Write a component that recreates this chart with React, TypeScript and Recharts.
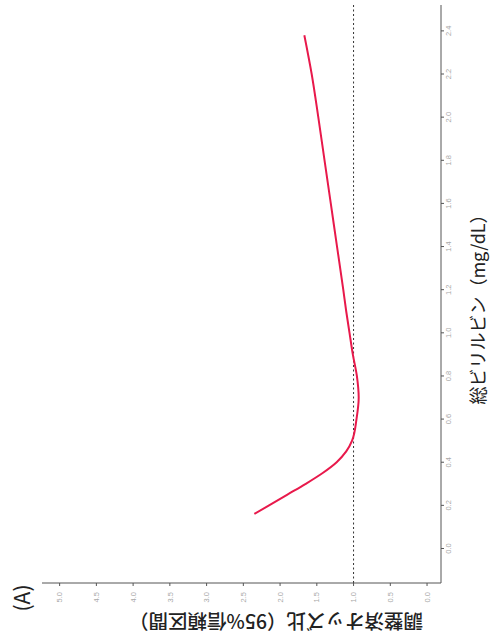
import React from 'react';
import { LineChart, Line, XAxis, YAxis, ReferenceLine } from 'recharts';

const bilirubin = [0.16, 0.2, 0.25, 0.3, 0.35, 0.4, 0.45, 0.5, 0.6, 0.7, 0.8, 0.9, 1.0, 1.1, 1.2, 1.4, 1.6, 1.8, 2.0, 2.2, 2.38];
const oddsRatio = [2.35, 2.15, 1.9, 1.65, 1.42, 1.23, 1.1, 1.02, 0.96, 0.93, 0.955, 1.01, 1.055, 1.1, 1.14, 1.225, 1.31, 1.395, 1.48, 1.57, 1.67];
const xTicks = [0, 0.2, 0.4, 0.6, 0.8, 1.0, 1.2, 1.4, 1.6, 1.8, 2.0, 2.2, 2.4];
const yTicks = [0, 0.5, 1.0, 1.5, 2.0, 2.5, 3.0, 3.5, 4.0, 4.5, 5.0];
const xTitle = '総ビリルビン（mg/dL）';
const yTitle = '調整済オッズ比（95%信頼区間）';
const panelLabel = '(A)';

const data = bilirubin.map((b, i) => ({ b, or: oddsRatio[i] }));

const tickStyle = { fontSize: 7.5, fill: '#a8a8a8', fontFamily: 'Liberation Sans, Arial, sans-serif' };

export default function App() {
  return (
    <div style={{ position: 'absolute', left: 0, top: 0, width: 492, height: 640, overflow: 'hidden', background: '#fff' }}>
      <div
        style={{
          position: 'absolute',
          left: 0,
          top: 0,
          width: 640,
          height: 492,
          transformOrigin: '0 0',
          transform: 'translate(0px, 640px) rotate(-90deg)',
        }}
      >
        <LineChart width={640} height={492} data={data} margin={{ top: 42, right: 5, bottom: 21, left: 27 }}>
          <XAxis
            dataKey="b"
            type="number"
            domain={[-0.16, 2.52]}
            ticks={xTicks}
            allowDataOverflow
            tickFormatter={(v: number) => v.toFixed(1)}
            tick={tickStyle}
            tickSize={3}
            tickMargin={2}
            height={30}
            stroke="#555"
            interval={0}
          />
          <YAxis
            type="number"
            domain={[-0.19, 5.24]}
            ticks={yTicks}
            allowDataOverflow
            tickFormatter={(v: number) => v.toFixed(1)}
            tick={tickStyle}
            tickSize={3}
            tickMargin={6}
            width={30}
            stroke="#555"
            interval={0}
          />
          <ReferenceLine y={1} stroke="#333" strokeDasharray="2 2.5" strokeWidth={1} />
          <Line
            dataKey="or"
            type="monotone"
            stroke="#e8194b"
            strokeWidth={2}
            dot={false}
            isAnimationActive={false}
          />
        </LineChart>
        <div
          style={{
            position: 'absolute',
            left: 335,
            top: 477,
            transform: 'translate(-50%, -50%)',
            whiteSpace: 'nowrap',
            fontSize: 18,
            fontFamily: '"Noto Sans CJK JP", sans-serif',
            color: '#222',
          }}
        >
          {xTitle}
        </div>
        <div
          style={{
            position: 'absolute',
            left: 18,
            top: 276,
            transform: 'translate(-50%, -50%) rotate(-90deg)',
            whiteSpace: 'nowrap',
            fontSize: 19.5,
            fontWeight: 500,
            fontFamily: '"Noto Sans CJK JP", sans-serif',
            color: '#222',
          }}
        >
          {yTitle}
        </div>
        <div
          style={{
            position: 'absolute',
            left: 42,
            top: 21,
            transform: 'translate(-50%, -50%)',
            whiteSpace: 'nowrap',
            fontSize: 21,
            fontFamily: '"Noto Sans CJK JP", sans-serif',
            color: '#222',
          }}
        >
          {panelLabel}
        </div>
      </div>
    </div>
  );
}
